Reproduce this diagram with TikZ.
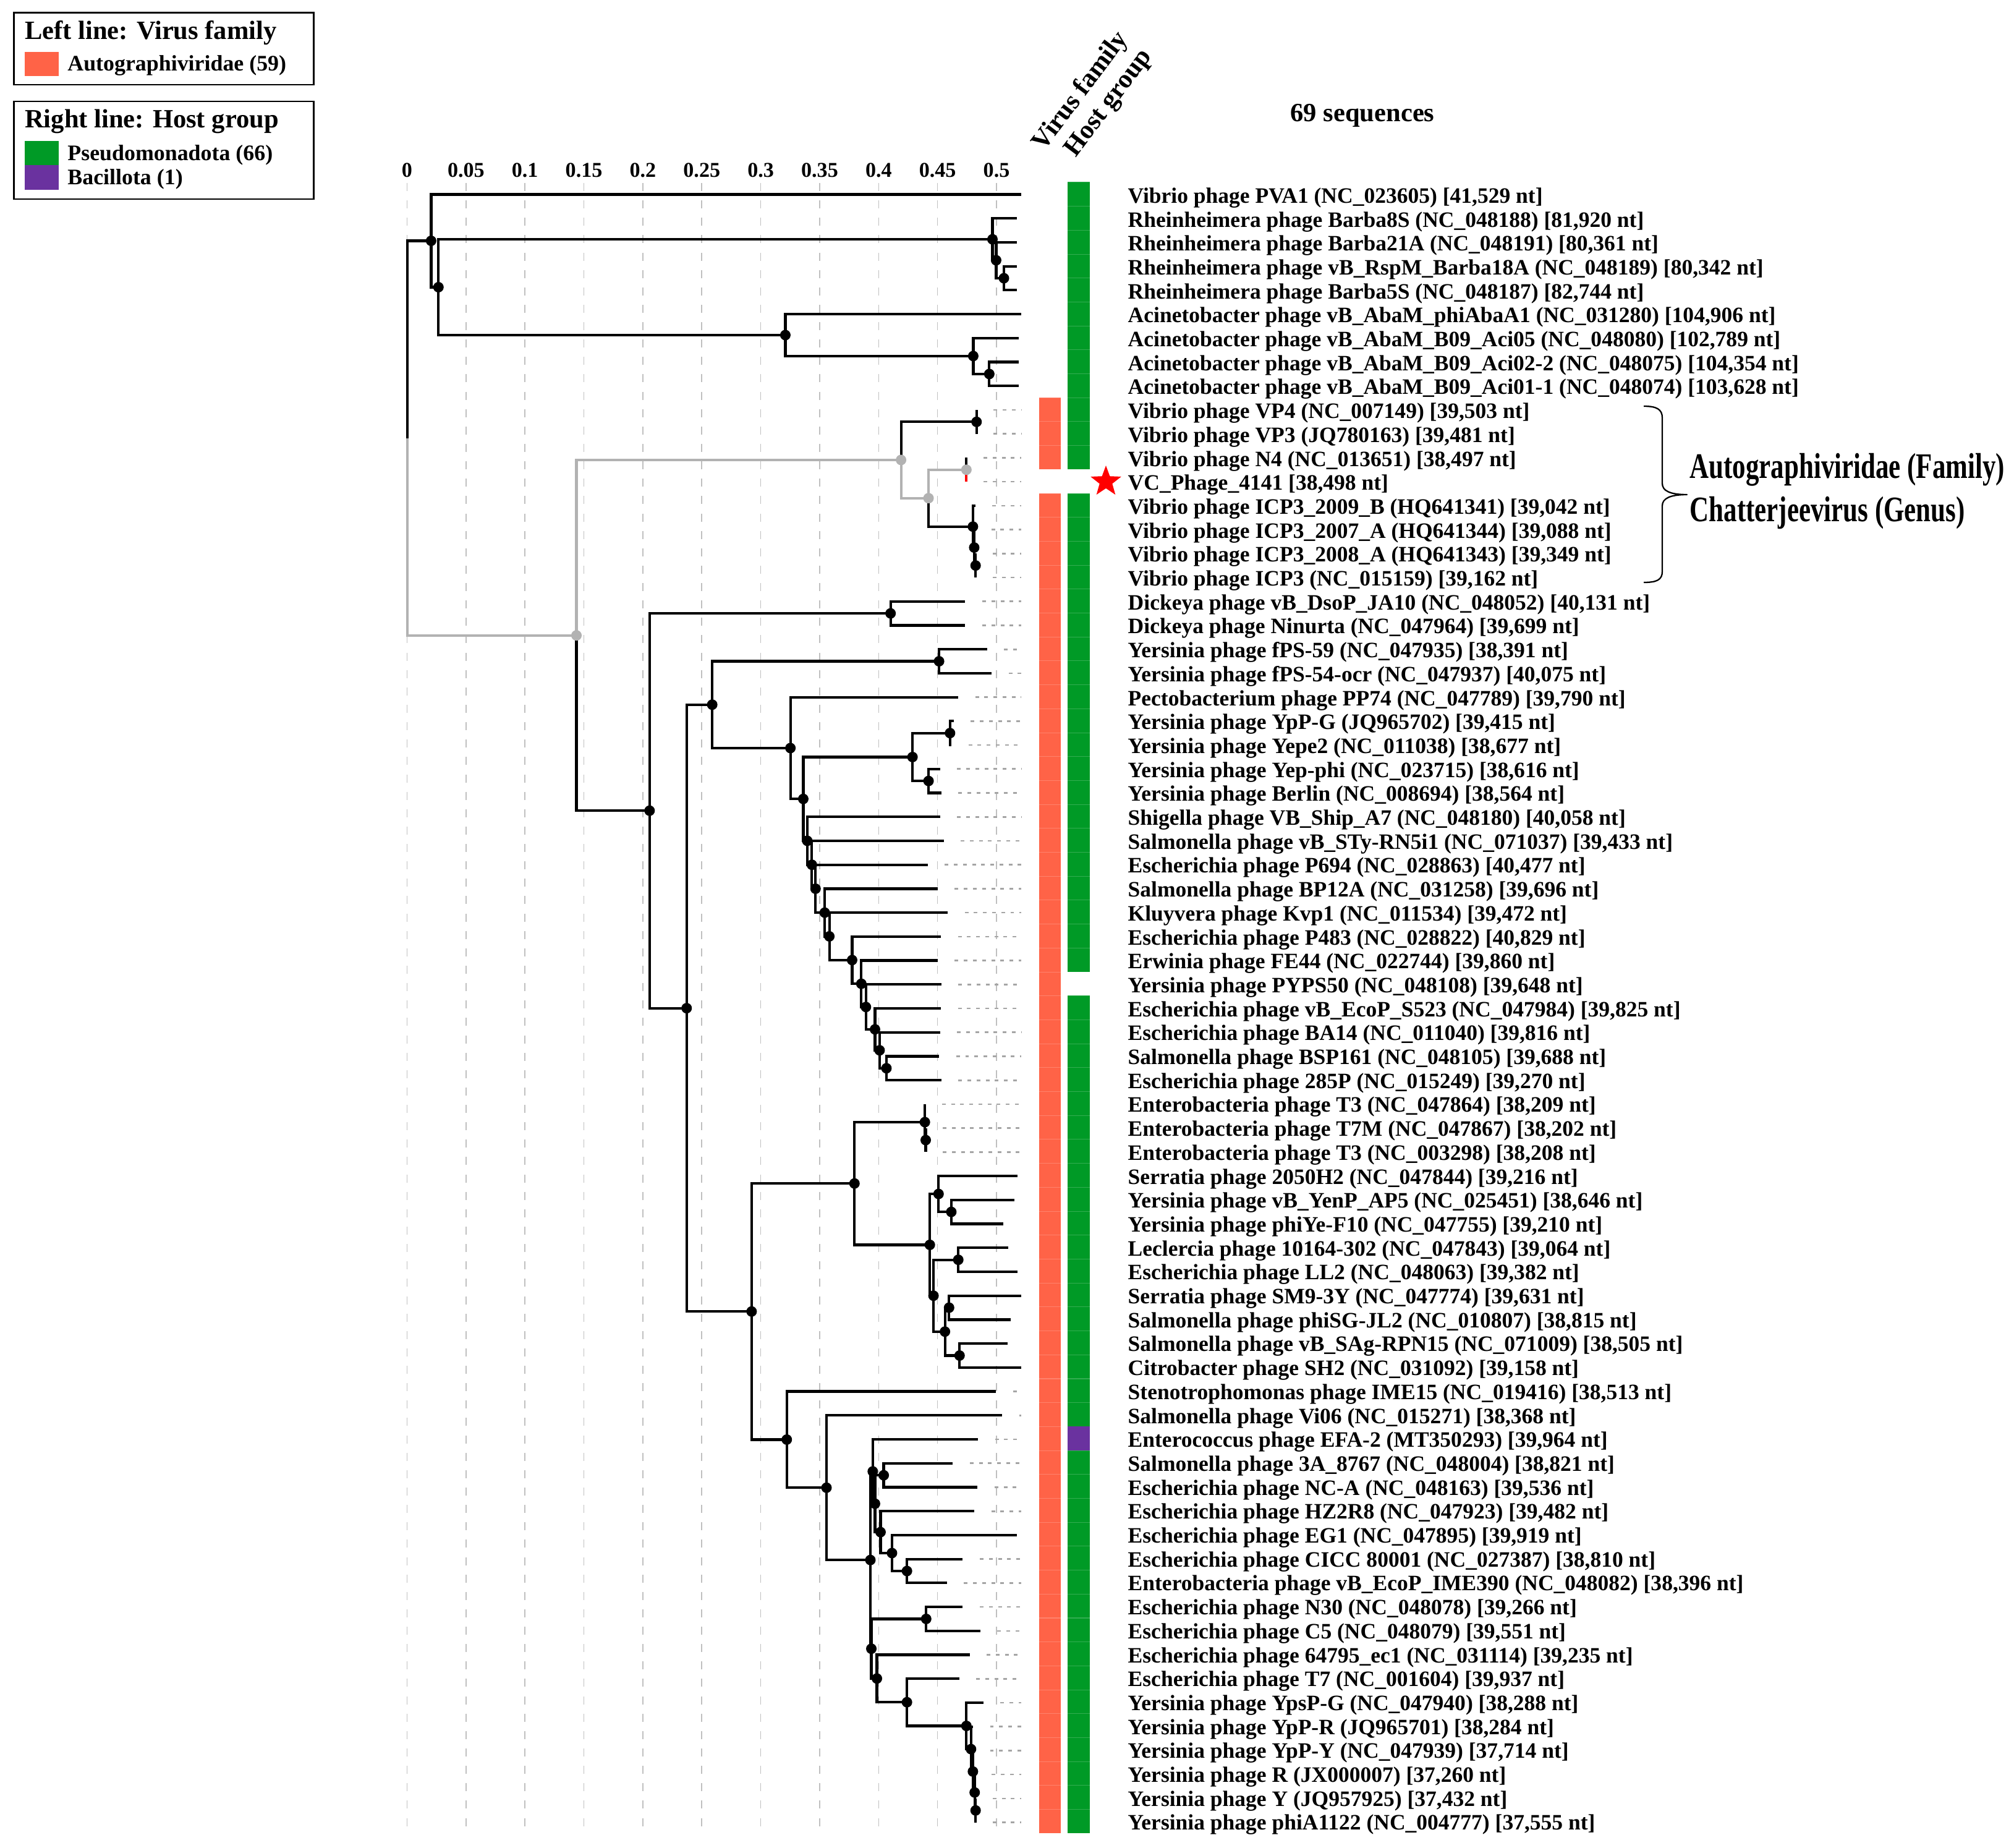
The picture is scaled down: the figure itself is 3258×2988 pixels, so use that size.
\documentclass[tikz,border=0pt]{standalone}
\usepackage{fontspec}
\usepackage{graphicx}
\setmainfont{Liberation Serif}
\usetikzlibrary{shapes.geometric}
\definecolor{famcol}{RGB}{255,99,71}
\definecolor{hostgreen}{RGB}{0,154,38}
\definecolor{hostpurple}{RGB}{106,50,159}
\definecolor{gridgray}{RGB}{192,192,192}
\definecolor{hlgray}{RGB}{178,178,178}
\definecolor{alngray}{RGB}{165,165,165}
\tikzset{
 edge/.style={line width=1.2pt, black},
 hledge/.style={line width=1.2pt, hlgray},
 rededge/.style={line width=1.2pt, red},
 gridline/.style={gridgray, line width=0.45pt, dash pattern=on 3.7pt off 4.3pt},
 alnline/.style={alngray, line width=0.75pt, dash pattern=on 1.7pt off 2.5pt},
 leaflab/.style={anchor=base west, inner sep=0pt, font=\fontsize{10.1}{12}\selectfont\bfseries},
 axlab/.style={anchor=base, inner sep=0pt, font=\fontsize{9.7}{11}\selectfont\bfseries},
 legtitle/.style={anchor=base west, inner sep=0pt, font=\fontsize{12.1}{14}\selectfont\bfseries},
 legitem/.style={anchor=base west, inner sep=0pt, font=\fontsize{10.2}{12}\selectfont\bfseries},
 legbox/.style={draw=black, line width=0.85pt},
 colhead/.style={anchor=base west, inner sep=0pt, rotate=53, font=\fontsize{12.2}{14}\selectfont\bfseries},
 bigtext/.style={anchor=base west, inner sep=0pt, font=\fontsize{16.5}{18}\selectfont\bfseries},
 sep/.style={line width=0.3pt},
 bracestyle/.style={line width=0.65pt, black, line join=round},
}
\begin{document}
\begin{tikzpicture}[x=0.01cm,y=-0.01cm]
\useasboundingbox (0,0) rectangle (3258,2988);
\fill[white] (0,0) rectangle (3258,2988);

% legend
\draw[legbox] (22.5,20.7) rectangle (507,137);
\node[legtitle] (lt1) at (39.5,63.3) {Left line: Virus family};
\fill[famcol] (39.5,84) rectangle (95,123.5);
\node[legitem] (li1) at (108.7,115) {Autographiviridae (59)};
\draw[legbox] (22.5,164) rectangle (507,322);
\node[legtitle] (lt2) at (39.5,207) {Right line: Host group};
\fill[hostgreen] (39.5,228) rectangle (95,267);
\fill[hostpurple] (39.5,267) rectangle (95,307);
\node[legitem] (li2) at (108.7,260) {Pseudomonadota (66)};
\node[legitem] (li3) at (108.7,299) {Bacillota (1)};

% grid and axis
\foreach \k/\t in {0/0,1/0.05,2/0.1,3/0.15,4/0.2,5/0.25,6/0.3,7/0.35,8/0.4,9/0.45,10/0.5}{
  \draw[gridline] ({658.5+95.35*\k},296) -- ({658.5+95.35*\k},2965);
  \node[axlab] (ax\k) at ({658.5+95.35*\k},287) {\t};
}

% headers
\node[colhead] (hvf) at (1688,246) {Virus family};
\node[colhead] (hhg) at (1740,256) {Host group};
\node[legtitle, anchor=base] (nseq) at (2204,197) {69 sequences};

% annotation bars
\foreach \r in {9,10,11,13,14,...,68}{
  \fill[famcol] (1681,{294.95+38.7*\r}) rectangle (1716,{294.95+38.7*(\r+1)});
  \draw[sep, famcol!80!white] (1681,{294.95+38.7*\r}) -- (1716,{294.95+38.7*\r});
}
\foreach \r in {0,1,...,11,13,14,...,32,34,35,...,51,53,54,...,68}{
  \fill[hostgreen] (1727,{294.95+38.7*\r}) rectangle (1763,{294.95+38.7*(\r+1)});
  \draw[sep, hostgreen!80!white] (1727,{294.95+38.7*\r}) -- (1763,{294.95+38.7*\r});
}
\fill[hostpurple] (1727,{294.95+38.7*52}) rectangle (1763,{294.95+38.7*53});

% tree
\begin{scope}[shift={(6.585cm,-3.143cm)}, x=19.07cm, y=-0.387cm]
\foreach \n/\d/\r in {root/0/10.18, A/0.0202/1.9375, C/0.0264/3.875, B/0.4961/1.875,
  F/0.4992/2.75, G/0.5058/3.5, D/0.3205/5.875, H/0.4798/6.75, I/0.4934/7.5,
  E/0.1434/18.42, K/0.4186/11.09, J/0.4826/9.5, L/0.4419/12.6875, N/0.4740/11.5,
  O/0.4795/13.875, P/0.4806/14.75, Q/0.4818/15.5, M/0.2054/25.74, R/0.4097/17.5,
  T/0.2368/33.99, U/0.2585/21.3125, V/0.4508/19.5, W/0.3248/23.125, X/0.3357/25.25,
  Y/0.4283/23.5, Ya/0.4601/22.5, Yb/0.4419/24.5, X2/0.3391/27, X3/0.3430/28,
  X4/0.3461/29, X5/0.3539/30, X6/0.3578/30.99, X7/0.3771/31.98, X8/0.3849/32.97,
  X9/0.3888/33.94, X10/0.3965/34.875, X11/0.4004/35.75, X12/0.4062/36.5,
  BB/0.2919/46.66, AA/0.3791/41.3125, DD/0.4388/38.75, DE/0.4395/39.5,
  EE/0.4430/43.875, FF/0.4504/41.75, FG/0.4612/42.5, GG/0.4461/46, HH/0.4671/44.5,
  II/0.4558/47.5, JJ/0.4593/46.5, KK/0.4682/48.5, CC/0.3217/52.01, LL/0.3554/54.02,
  MM/0.3926/57.04, NA/0.3946/53.34, NB/0.3965/54.6875, PA/0.4039/53.5,
  PD/0.4012/55.875, PB/0.4109/56.75, PC/0.4236/57.5, NC/0.3934/60.746,
  PE/0.4399/59.5, PF/0.3981/61.99, PG/0.4236/62.98, PH/0.4740/63.97,
  PI/0.4779/64.94, PJ/0.4795/65.875, PK/0.4810/66.75, PL/0.4818/67.5}
  \coordinate (\n) at (\d,\r);

\foreach \p/\c in {root/A, A/C, C/B, B/F, F/G, C/D, D/H, H/I, K/J, L/O, O/P, P/Q,
  E/M, M/R, M/T, T/U, U/V, U/W, W/X, X/Y, Y/Ya, Y/Yb, X/X2, X2/X3, X3/X4, X4/X5,
  X5/X6, X6/X7, X7/X8, X8/X9, X9/X10, X10/X11, X11/X12, T/BB, BB/AA, AA/DD, DD/DE,
  AA/EE, EE/FF, FF/FG, EE/GG, GG/HH, GG/II, II/JJ, II/KK, BB/CC, CC/LL, LL/MM,
  MM/NA, NA/NB, NB/PA, NB/PD, PD/PB, PB/PC, MM/NC, NC/PE, NC/PF, PF/PG, PG/PH,
  PH/PI, PI/PJ, PJ/PK, PK/PL}
  \draw[edge] (\p) |- (\c);

\foreach \n/\p/\t in {0/A/0.5205, 1/B/0.517, 2/F/0.517, 3/G/0.517, 4/G/0.517,
  5/D/0.5205, 6/H/0.5185, 7/I/0.5185, 8/I/0.5185, 9/J/0.4826, 10/J/0.4826,
  11/N/0.4740, 13/O/0.4815, 14/P/0.4806, 15/Q/0.4818, 16/Q/0.4818, 17/R/0.473,
  18/R/0.473, 19/V/0.4915, 20/V/0.4953, 21/W/0.467, 22/Ya/0.4632, 23/Ya/0.4612,
  24/Yb/0.4516, 25/Yb/0.4527, 26/X2/0.4516, 27/X3/0.4547, 28/X4/0.4411,
  29/X5/0.4496, 30/X6/0.4581, 31/X7/0.4523, 32/X8/0.4496, 33/X9/0.4527,
  34/X10/0.4523, 35/X11/0.4516, 36/X12/0.4508, 37/X12/0.4527, 38/DD/0.4388,
  39/DE/0.4395, 40/DE/0.4395, 41/FF/0.5174, 42/FG/0.5147, 43/FG/0.5050,
  44/HH/0.5097, 45/HH/0.5174, 46/JJ/0.5205, 47/JJ/0.5116, 48/KK/0.5089,
  49/KK/0.5205, 50/CC/0.4992, 51/LL/0.5043, 52/NA/0.4837, 53/PA/0.4624,
  54/PA/0.4833, 55/PD/0.4806, 56/PB/0.5167, 57/PC/0.4709, 58/PC/0.4574,
  59/PE/0.4709, 60/PE/0.4857, 61/PF/0.4767, 62/PG/0.4678, 63/PH/0.4884,
  64/PI/0.4795, 65/PJ/0.4795, 66/PK/0.4810, 67/PL/0.4818, 68/PL/0.4818}{
  \coordinate (l\n) at (\t,\n);
  \draw[edge] (\p) |- (l\n);
  \pgfmathsetmacro\s{\t+0.0145}
  \ifdim\s pt<0.5192pt \draw[alnline] (\s,\n) -- (0.5205,\n); \fi
}
% highlighted path
\foreach \p/\c in {root/E, E/K, K/L, L/N}
  \draw[hledge] (\p) |- (\c);
\coordinate (l12) at (0.4740,12);
\draw[rededge] (N) |- (l12);
\draw[alnline] (0.4885,12) -- (0.5205,12);

% node dots
\foreach \n in {A, C, B, F, G, D, H, I, J, O, P, Q, M, R, T, U, V, W, X, Y, Ya, Yb,
  X2, X3, X4, X5, X6, X7, X8, X9, X10, X11, X12, BB, AA, DD, DE, EE, FF, FG, GG,
  HH, II, JJ, KK, CC, LL, MM, NA, NB, PA, PD, PB, PC, NC, PE, PF, PG, PH, PI, PJ,
  PK, PL}
  \fill[black] (\n) circle[radius=0.085cm];
\foreach \n in {E, K, L, N}
  \fill[hlgray] (\n) circle[radius=0.085cm];
\end{scope}

% leaf labels
\foreach \i/\t in {
0/{Vibrio phage PVA1 (NC\_023605) [41,529 nt]},
1/{Rheinheimera phage Barba8S (NC\_048188) [81,920 nt]},
2/{Rheinheimera phage Barba21A (NC\_048191) [80,361 nt]},
3/{Rheinheimera phage vB\_RspM\_Barba18A (NC\_048189) [80,342 nt]},
4/{Rheinheimera phage Barba5S (NC\_048187) [82,744 nt]},
5/{Acinetobacter phage vB\_AbaM\_phiAbaA1 (NC\_031280) [104,906 nt]},
6/{Acinetobacter phage vB\_AbaM\_B09\_Aci05 (NC\_048080) [102,789 nt]},
7/{Acinetobacter phage vB\_AbaM\_B09\_Aci02-2 (NC\_048075) [104,354 nt]},
8/{Acinetobacter phage vB\_AbaM\_B09\_Aci01-1 (NC\_048074) [103,628 nt]},
9/{Vibrio phage VP4 (NC\_007149) [39,503 nt]},
10/{Vibrio phage VP3 (JQ780163) [39,481 nt]},
11/{Vibrio phage N4 (NC\_013651) [38,497 nt]},
12/{VC\_Phage\_4141 [38,498 nt]},
13/{Vibrio phage ICP3\_2009\_B (HQ641341) [39,042 nt]},
14/{Vibrio phage ICP3\_2007\_A (HQ641344) [39,088 nt]},
15/{Vibrio phage ICP3\_2008\_A (HQ641343) [39,349 nt]},
16/{Vibrio phage ICP3 (NC\_015159) [39,162 nt]},
17/{Dickeya phage vB\_DsoP\_JA10 (NC\_048052) [40,131 nt]},
18/{Dickeya phage Ninurta (NC\_047964) [39,699 nt]},
19/{Yersinia phage fPS-59 (NC\_047935) [38,391 nt]},
20/{Yersinia phage fPS-54-ocr (NC\_047937) [40,075 nt]},
21/{Pectobacterium phage PP74 (NC\_047789) [39,790 nt]},
22/{Yersinia phage YpP-G (JQ965702) [39,415 nt]},
23/{Yersinia phage Yepe2 (NC\_011038) [38,677 nt]},
24/{Yersinia phage Yep-phi (NC\_023715) [38,616 nt]},
25/{Yersinia phage Berlin (NC\_008694) [38,564 nt]},
26/{Shigella phage VB\_Ship\_A7 (NC\_048180) [40,058 nt]},
27/{Salmonella phage vB\_STy-RN5i1 (NC\_071037) [39,433 nt]},
28/{Escherichia phage P694 (NC\_028863) [40,477 nt]},
29/{Salmonella phage BP12A (NC\_031258) [39,696 nt]},
30/{Kluyvera phage Kvp1 (NC\_011534) [39,472 nt]},
31/{Escherichia phage P483 (NC\_028822) [40,829 nt]},
32/{Erwinia phage FE44 (NC\_022744) [39,860 nt]},
33/{Yersinia phage PYPS50 (NC\_048108) [39,648 nt]},
34/{Escherichia phage vB\_EcoP\_S523 (NC\_047984) [39,825 nt]},
35/{Escherichia phage BA14 (NC\_011040) [39,816 nt]},
36/{Salmonella phage BSP161 (NC\_048105) [39,688 nt]},
37/{Escherichia phage 285P (NC\_015249) [39,270 nt]},
38/{Enterobacteria phage T3 (NC\_047864) [38,209 nt]},
39/{Enterobacteria phage T7M (NC\_047867) [38,202 nt]},
40/{Enterobacteria phage T3 (NC\_003298) [38,208 nt]},
41/{Serratia phage 2050H2 (NC\_047844) [39,216 nt]},
42/{Yersinia phage vB\_YenP\_AP5 (NC\_025451) [38,646 nt]},
43/{Yersinia phage phiYe-F10 (NC\_047755) [39,210 nt]},
44/{Leclercia phage 10164-302 (NC\_047843) [39,064 nt]},
45/{Escherichia phage LL2 (NC\_048063) [39,382 nt]},
46/{Serratia phage SM9-3Y (NC\_047774) [39,631 nt]},
47/{Salmonella phage phiSG-JL2 (NC\_010807) [38,815 nt]},
48/{Salmonella phage vB\_SAg-RPN15 (NC\_071009) [38,505 nt]},
49/{Citrobacter phage SH2 (NC\_031092) [39,158 nt]},
50/{Stenotrophomonas phage IME15 (NC\_019416) [38,513 nt]},
51/{Salmonella phage Vi06 (NC\_015271) [38,368 nt]},
52/{Enterococcus phage EFA-2 (MT350293) [39,964 nt]},
53/{Salmonella phage 3A\_8767 (NC\_048004) [38,821 nt]},
54/{Escherichia phage NC-A (NC\_048163) [39,536 nt]},
55/{Escherichia phage HZ2R8 (NC\_047923) [39,482 nt]},
56/{Escherichia phage EG1 (NC\_047895) [39,919 nt]},
57/{Escherichia phage CICC 80001 (NC\_027387) [38,810 nt]},
58/{Enterobacteria phage vB\_EcoP\_IME390 (NC\_048082) [38,396 nt]},
59/{Escherichia phage N30 (NC\_048078) [39,266 nt]},
60/{Escherichia phage C5 (NC\_048079) [39,551 nt]},
61/{Escherichia phage 64795\_ec1 (NC\_031114) [39,235 nt]},
62/{Escherichia phage T7 (NC\_001604) [39,937 nt]},
63/{Yersinia phage YpsP-G (NC\_047940) [38,288 nt]},
64/{Yersinia phage YpP-R (JQ965701) [38,284 nt]},
65/{Yersinia phage YpP-Y (NC\_047939) [37,714 nt]},
66/{Yersinia phage R (JX000007) [37,260 nt]},
67/{Yersinia phage Y (JQ957925) [37,432 nt]},
68/{Yersinia phage phiA1122 (NC\_004777) [37,555 nt]}}
  \node[leaflab] (lab\i) at (1824,{328.3+38.7*\i}) {\t};

% star marker
\node[star, star points=5, star point ratio=2.4, fill=red, draw=none,
      minimum size=0.52cm, inner sep=0pt] (star) at (1789,779) {};

% brace and clade annotation
\coordinate (bt) at (2659,657);
\coordinate (btip) at (2729,800);
\coordinate (bb) at (2659,942);
\draw[bracestyle] (bt) .. controls (2680,657) and (2689,662) .. (2689,676)
  -- (2689,782) .. controls (2689,794) and (2702,800) .. (btip)
  .. controls (2702,800) and (2689,806) .. (2689,818)
  -- (2689,924) .. controls (2689,938) and (2680,942) .. (bb);
\node[bigtext] (fam) at (2733,773) {\scalebox{0.74}[1]{Autographiviridae (Family)}};
\node[bigtext] (gen) at (2733,843) {\scalebox{0.74}[1]{Chatterjeevirus (Genus)}};
\end{tikzpicture}
\end{document}
